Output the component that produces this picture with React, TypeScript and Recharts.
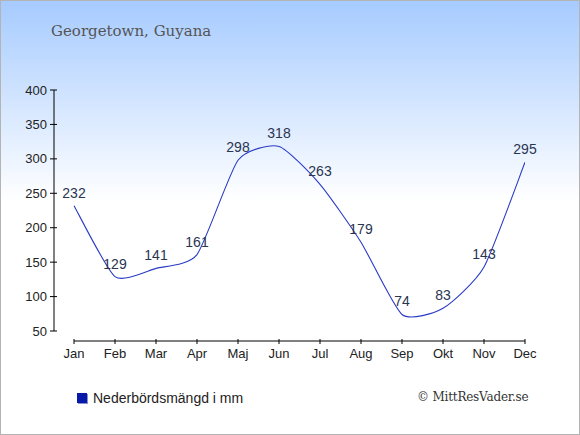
import React from "react";
import { LineChart, Line, XAxis, YAxis, ReferenceLine, LabelList } from "recharts";

const months = ["Jan", "Feb", "Mar", "Apr", "Maj", "Jun", "Jul", "Aug", "Sep", "Okt", "Nov", "Dec"];
const rainfall = [232, 129, 141, 161, 298, 318, 263, 179, 74, 83, 143, 295];
const yTicks = [50, 100, 150, 200, 250, 300, 350, 400];
const xTicks = months.map((_, i) => i);
const seriesName = "Nederbördsmängd i mm";
const title = "Georgetown, Guyana";
const credit = "© MittResVader.se";

const data = months.map((m, i) => ({ idx: i, month: m, value: rainfall[i] }));

const X_MIN = -0.488;
const Y_MIN = 35.5;

function cardinalCurve(context: any) {
  let pts: number[][] = [];
  return {
    areaStart() {},
    areaEnd() {},
    lineStart() {
      pts = [];
    },
    point(x: number, y: number) {
      pts.push([+x, +y]);
    },
    lineEnd() {
      if (!pts.length) return;
      context.moveTo(pts[0][0], pts[0][1]);
      const t = 0.1;
      for (let i = 0; i < pts.length - 1; i++) {
        const p0 = pts[i - 1] || pts[i];
        const p1 = pts[i];
        const p2 = pts[i + 1];
        const p3 = pts[i + 2] || p2;
        context.bezierCurveTo(
          p1[0] + (p2[0] - p0[0]) * t,
          p1[1] + (p2[1] - p0[1]) * t,
          p2[0] - (p3[0] - p1[0]) * t,
          p2[1] - (p3[1] - p1[1]) * t,
          p2[0],
          p2[1]
        );
      }
    },
  };
}

const XTick = (props: any) => {
  const { x, y, payload } = props;
  return (
    <g>
      <line x1={x} x2={x} y1={y - 2} y2={y + 3} stroke="#000" />
      <text x={x} y={y + 16.5} textAnchor="middle" fill="#222" fontSize={13}>
        {months[payload.value]}
      </text>
    </g>
  );
};

const YTick = (props: any) => {
  const { x, y, payload } = props;
  return (
    <g>
      <line x1={x - 4} x2={x + 3} y1={y} y2={y} stroke="#000" />
      <text x={x - 7} y={y + 4.5} textAnchor="end" fill="#222" fontSize={13}>
        {payload.value}
      </text>
    </g>
  );
};

export default function App() {
  return (
    <div
      style={{
        position: "absolute",
        left: 0,
        top: 0,
        width: 580,
        height: 435,
        boxSizing: "border-box",
        border: "1px solid #b4b4b4",
        background: "linear-gradient(to bottom, #a6cbff 0px, #ffffff 200px, #ffffff 435px)",
        fontFamily: "'Liberation Sans', Arial, sans-serif",
        overflow: "hidden",
      }}
    >
      <div
        style={{
          position: "absolute",
          left: 50,
          top: 21,
          fontFamily: "'DejaVu Serif', serif",
          fontSize: 15,
          color: "#555",
          whiteSpace: "nowrap",
        }}
      >
        {title}
      </div>
      <div
        style={{
          position: "absolute",
          left: 416,
          top: 389,
          fontFamily: "'DejaVu Serif', serif",
          fontSize: 12,
          letterSpacing: -0.2,
          color: "#333",
          whiteSpace: "nowrap",
        }}
      >
        {credit}
      </div>
      <div
        style={{
          position: "absolute",
          left: 76,
          top: 389,
          display: "flex",
          alignItems: "center",
          whiteSpace: "nowrap",
        }}
      >
        <div
          style={{
            width: 10,
            height: 10,
            background: "#0818a8",
            boxShadow: "1px 1px 0 #8890d0",
            marginRight: 6,
          }}
        />
        <span style={{ color: "#222", fontSize: 14 }}>{seriesName}</span>
      </div>
      <div style={{ position: "absolute", left: -1, top: -1 }}>
        <LineChart width={580} height={435} data={data} margin={{ top: 90, right: 55, bottom: 74, left: 0 }}>
          <XAxis
            dataKey="idx"
            type="number"
            domain={[X_MIN, 11]}
            ticks={xTicks}
            axisLine={false}
            tickLine={false}
            tickSize={0}
            tickMargin={0}
            height={20}
            interval={0}
            tick={<XTick />}
            allowDataOverflow
          />
          <YAxis
            type="number"
            domain={[Y_MIN, 400]}
            ticks={yTicks}
            axisLine={false}
            tickLine={false}
            tickSize={0}
            tickMargin={0}
            width={54}
            interval={0}
            tick={<YTick />}
            allowDataOverflow
          />
          <ReferenceLine
            segment={[
              { x: X_MIN, y: 50 },
              { x: X_MIN, y: 400 },
            ]}
            stroke="#000"
            strokeWidth={1}
            ifOverflow="visible"
          />
          <ReferenceLine
            segment={[
              { x: 0, y: Y_MIN },
              { x: 11, y: Y_MIN },
            ]}
            stroke="#000"
            strokeWidth={1}
            ifOverflow="visible"
          />
          <Line
            type={cardinalCurve as any}
            dataKey="value"
            name={seriesName}
            stroke="#2a3bc6"
            strokeWidth={1.1}
            dot={false}
            activeDot={false}
            isAnimationActive={false}
          >
            <LabelList dataKey="value" position="top" offset={8} fill="#2a3550" fontSize={14} />
          </Line>
        </LineChart>
      </div>
    </div>
  );
}
